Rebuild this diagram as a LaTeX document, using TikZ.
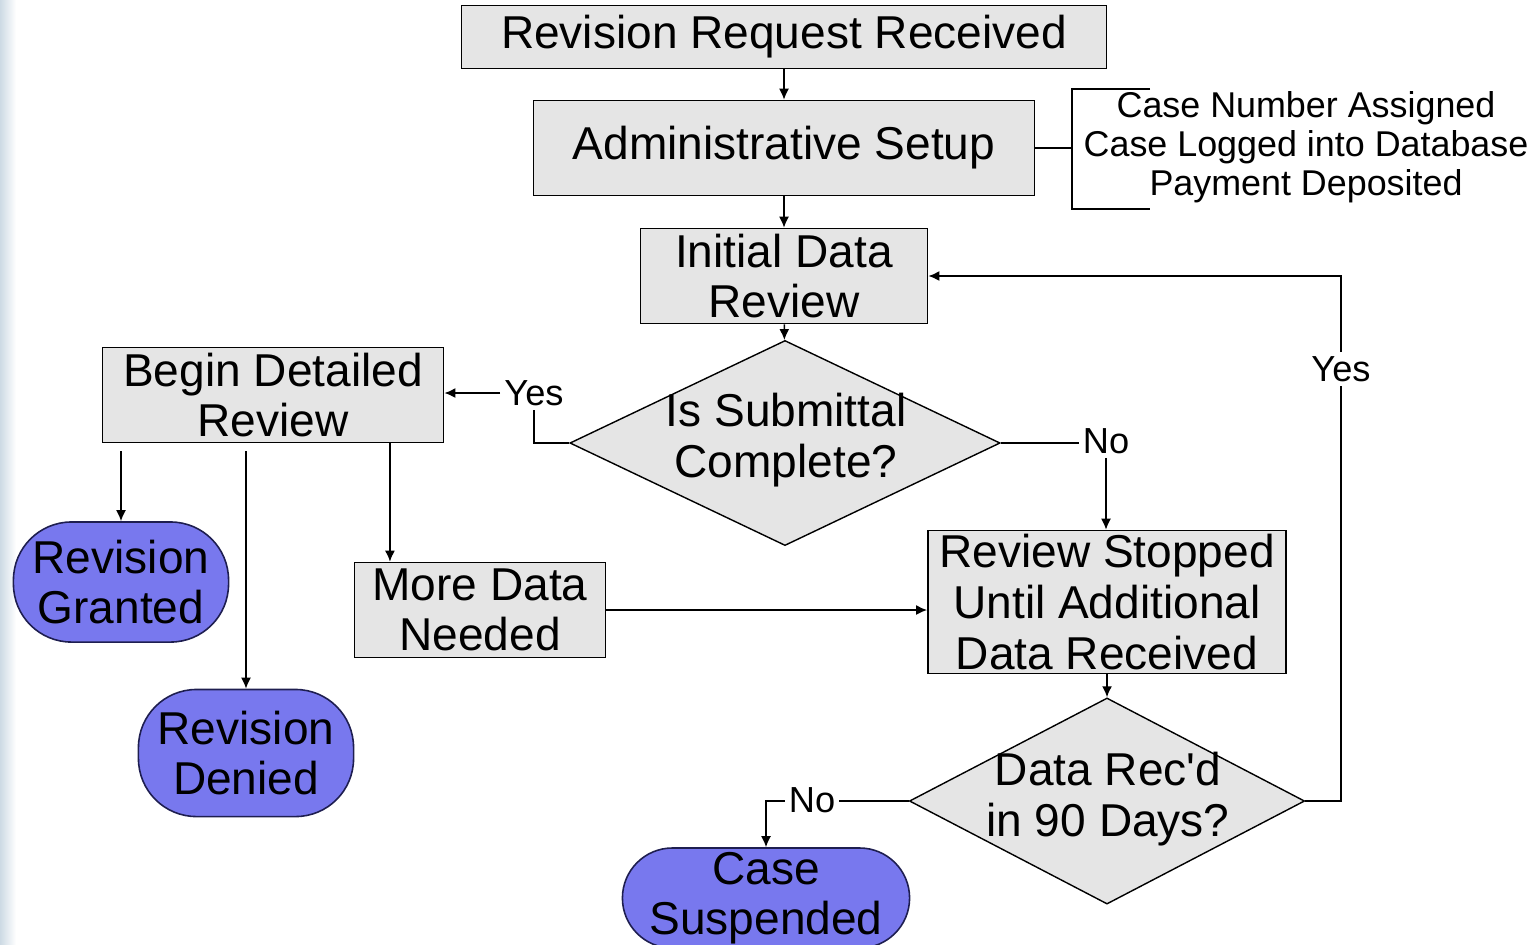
\documentclass[tikz,border=0pt]{standalone}
\usepackage{fontspec}
\setmainfont{Liberation Sans}
\usepackage{xcolor}
\usetikzlibrary{arrows.meta,positioning,shapes.geometric}
\definecolor{boxgray}{RGB}{229,229,229}
\definecolor{endblue}{RGB}{120,120,238}
\definecolor{endline}{RGB}{30,30,80}
\definecolor{edgeblue}{RGB}{205,218,228}

\begin{document}
\begin{tikzpicture}[
    x=0.01cm, y=-0.01cm,
    box/.style={draw, fill=boxgray, align=center, inner sep=0pt, line width=0.45pt,
                font=\fontsize{13.1}{14.4}\selectfont},
    decision/.style={diamond, draw, fill=boxgray, inner sep=0pt, line width=0.4pt},
    dtext/.style={align=center, font=\fontsize{13.1}{14.6}\selectfont},
    terminal/.style={draw=endline, fill=endblue, rounded corners=5.8mm, align=center,
                inner sep=0pt, line width=0.45pt, font=\fontsize{13.1}{14.4}\selectfont},
    lbl/.style={font=\fontsize{10.3}{11}\selectfont, inner sep=1pt, fill=white},
    arrow/.style={-{Latex[length=1.1mm,width=1mm]}, line width=0.45pt},
    link/.style={line width=0.45pt}
]
\useasboundingbox (0,0) rectangle (1534,944);
\clip (0,0) rectangle (1534,944);
\fill[left color=edgeblue, right color=white] (0,0) rectangle (16,944);

\node[box, minimum width=6.45cm, minimum height=0.63cm] (req) at (784,37) {Revision Request Received};
\node[box, minimum width=5.01cm, minimum height=0.95cm] (admin) at (784,148) {Administrative Setup};
\node[box, minimum width=2.87cm, minimum height=0.95cm] (init) at (784,276) {Initial Data\\Review};
\node[decision, minimum width=4.3cm, minimum height=2.05cm] (subm) at (785,443) {};
\node[dtext] (submtxt) at (786,440) {Is Submittal\\Complete?};
\node[box, minimum width=3.41cm, minimum height=0.95cm] (begin) at (273,395) {Begin Detailed\\Review};
\node[box, minimum width=2.51cm, minimum height=0.95cm] (more) at (480,610) {More Data\\Needed};
\node[box, minimum width=3.58cm, minimum height=1.43cm] (stop) at (1107,602) {Review Stopped\\ Until Additional\\Data Received};
\node[decision, minimum width=3.95cm, minimum height=2.06cm] (recd) at (1107,801) {};
\node[dtext] (recdtxt) at (1108,799) {\addfontfeatures{Ligatures=TeXOff}Data Rec'd\\in 90 Days?};
\node[terminal, minimum width=2.15cm, minimum height=1.2cm] (granted) at (121,582) {Revision\\Granted};
\node[terminal, minimum width=2.15cm, minimum height=1.27cm] (denied) at (246,753) {Revision\\Denied};
\node[terminal, rounded corners=5mm, minimum width=2.87cm, minimum height=1.0cm] (susp) at (766,898) {Case\\Suspended};

\node[lbl, fill=none, align=center, font=\fontsize{10.2}{11.1}\selectfont] (notes) at (1306,147)
    {Case Number Assigned\\Case Logged into Database\\Payment Deposited};
\coordinate (brk) at (1072,148);
\draw[link] (admin.east) -- (brk);
\draw[link] (1150,89) -- (1072,89) -- (1072,209) -- (1150,209);

\node[lbl] (yes1) at (534,393) {Yes};
\node[lbl] (no1) at (1106,441) {No};
\node[lbl] (yes2) at (1341,369) {Yes};
\node[lbl] (no2) at (812,800) {No};

\draw[arrow] (req) -- (admin);
\draw[arrow] (admin) -- (init);
\draw[arrow] (init) -- (subm);
\draw[link] (subm.west) -| (yes1.south);
\draw[arrow] (yes1.west) -- (begin.east |- yes1.west);
\draw[link] (subm.east) -- (subm.east -| no1.west);
\draw[arrow] (no1.south) -- (no1.south |- stop.north);
\draw[arrow, shorten <=0.8mm] (begin.south -| granted.north) -- (granted.north);
\draw[arrow, shorten <=0.8mm] (begin.south -| denied.north) -- (denied.north);
\draw[arrow] ([xshift=-9mm]more.north |- begin.south) -- ([xshift=-9mm]more.north);
\draw[arrow] (more.east) -- (stop.west |- more.east);
\draw[arrow] (stop) -- (recd);
\draw[link] (recd.east) -| (yes2.south);
\draw[arrow] (yes2.north) |- (init.east);
\draw[link] (recd.west) -- (recd.west -| no2.east);
\draw[arrow] (recd.west -| no2.west) -| (susp.north);
\end{tikzpicture}
\end{document}
